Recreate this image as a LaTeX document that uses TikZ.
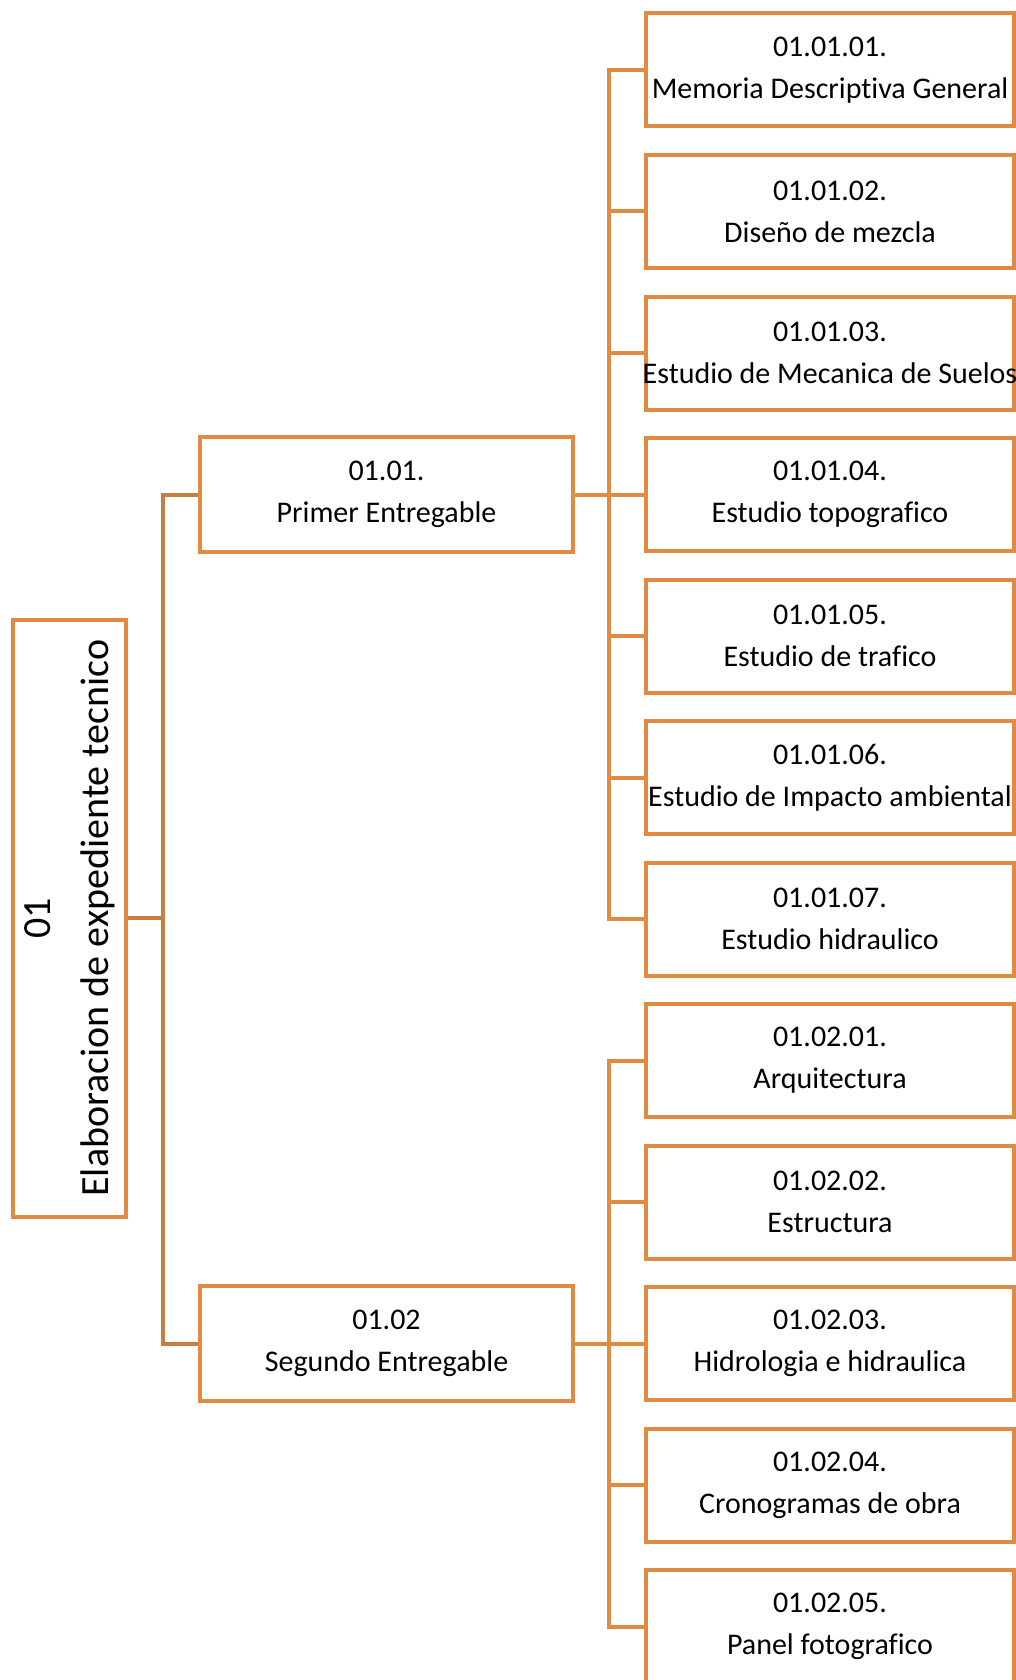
\documentclass[tikz,border=0pt]{standalone}
\usepackage{fontspec}
\setmainfont{Carlito}[Ligatures={NoCommon}]
\usetikzlibrary{positioning,calc}
\definecolor{boxorange}{HTML}{E38A42}
\definecolor{rootbrown}{HTML}{C97E40}

\tikzset{
  wbsbox/.style={draw=boxorange,line width=4pt,fill=white,align=center,inner sep=0pt},
  leafbox/.style={wbsbox,minimum width=368pt,minimum height=113pt,font=\fontsize{30}{42}\selectfont},
  midbox/.style={wbsbox,minimum width=373pt,minimum height=115pt,font=\fontsize{30}{42}\selectfont},
  rootbox/.style={wbsbox,rotate=90,minimum width=597pt,minimum height=113pt,font=\fontsize{40}{58}\selectfont},
  leaflink/.style={draw=boxorange,line width=4pt},
  rootlink/.style={draw=rootbrown,line width=4pt},
}

\begin{document}
\begin{tikzpicture}[x=1pt,y=-1pt]
  \useasboundingbox (0,0) rectangle (1016,1680);
  % root and first level
  \node[rootbox] (root) at (69.5,918) {01\\Elaboracion de expediente tecnico};
  \node[midbox] (m1) at (386.5,494.5) {01.01.\\Primer Entregable};
  \node[midbox] (m2) at (386.5,1343.5) {01.02\\Segundo Entregable};
  % leaves
  \foreach \name/\code/\txt [count=\i from 0] in {
      a1/01.01.01./Memoria Descriptiva General,
      a2/01.01.02./Diseño de mezcla,
      a3/01.01.03./Estudio de Mecanica de Suelos,
      a4/01.01.04./Estudio topografico,
      a5/01.01.05./Estudio de trafico,
      a6/01.01.06./Estudio de Impacto ambiental,
      a7/01.01.07./Estudio hidraulico,
      b1/01.02.01./Arquitectura,
      b2/01.02.02./Estructura,
      b3/01.02.03./Hidrologia e hidraulica,
      b4/01.02.04./Cronogramas de obra,
      b5/01.02.05./Panel fotografico}{
    \node[leafbox] (\name) at (830,70+\i*141.5) {\makebox[0pt]{\code}\\\makebox[0pt]{\txt}};
  }
  % connectors
  \coordinate (rbus) at (163,918);
  \coordinate (bus1) at (609,494.5);
  \coordinate (bus2) at (609,1343.5);
  \draw[rootlink] (root.south) -- (rbus);
  \draw[rootlink] (m1.west) -| (rbus);
  \draw[rootlink] (m2.west) -| (rbus);
  \draw[leaflink] (m1.east) -- (bus1);
  \draw[leaflink] (m2.east) -- (bus2);
  \foreach \n in {a1,a2,a3,a4,a5,a6,a7}
    \draw[leaflink] (\n.west) -| (bus1);
  \foreach \n in {b1,b2,b3,b4,b5}
    \draw[leaflink] (\n.west) -| (bus2);
\end{tikzpicture}
\end{document}
